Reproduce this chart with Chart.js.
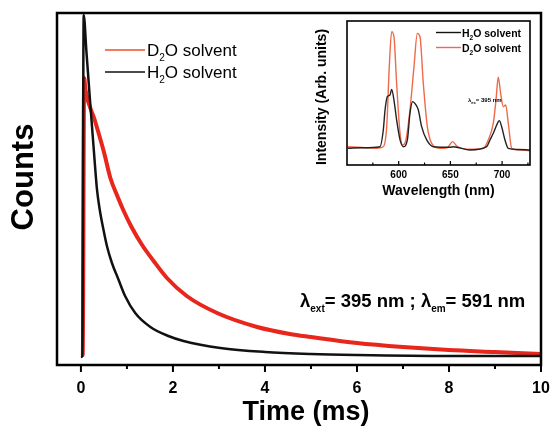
<!DOCTYPE html>
<html><head><meta charset="utf-8">
<script src="https://cdn.jsdelivr.net/npm/chart.js@4/dist/chart.umd.min.js"></script>
<style>
html,body{margin:0;padding:0;background:#fff;overflow:hidden}
#wrap{position:relative;width:550px;height:426px}
canvas{position:absolute;left:0;top:0}
</style>
</head><body>
<div id="wrap">
<canvas id="main" width="550" height="426"></canvas>
<canvas id="inset" width="240" height="200" style="left:300px;top:10px"></canvas>
</div>
<script>
// ---- Main decay data (Time in ms, Counts in arbitrary units) ----
const timeH2O   = [0.0, 0.03, 0.06, 0.12, 0.2, 0.28, 0.35, 0.41, 0.5, 0.565, 0.674, 0.82, 0.96, 1.18, 1.51, 1.9, 2.23, 3.03, 4.0, 5.0, 6.0, 8.0, 10.0];
const countsH2O = [227, 256, 9943, 8892, 7472, 6108, 4972, 4403, 3778, 3381, 2898, 2415, 1960, 1477, 1080, 824, 682, 483, 369, 312, 284, 256, 256];
const timeD2O   = [0.0, 0.04, 0.07, 0.1, 0.3, 0.5, 0.64, 0.8, 0.93, 1.1, 1.33, 1.58, 1.87, 2.3, 2.96, 3.83, 4.54, 5.0, 6.0, 7.0, 8.0, 9.0, 10.0];
const countsD2O = [256, 300, 8153, 7813, 6960, 6050, 5313, 4773, 4375, 3920, 3409, 2955, 2472, 1960, 1477, 1080, 881, 795, 625, 511, 426, 369, 312];
const timeTickLabels = [0, 2, 4, 6, 8, 10];

// ---- Inset emission spectra (Wavelength nm, Intensity arb. units) ----
const wlD2O  = [551, 565, 578.7, 585.1, 588.4, 590.9, 593.2, 595.4, 598, 601.3, 603.9, 607, 610.9, 614.8, 618, 620.6, 623.8, 627.7, 631.9, 640, 647, 652.2, 656.1, 669, 681.8, 686.6, 691.5, 694.1, 696.3, 698.6, 701.2, 703.5, 706, 709.3, 715, 727];
const intD2O = [12.7, 12.2, 11.6, 12.7, 26.6, 68.3, 92.6, 89.1, 56.7, 22, 13.9, 17.4, 38.2, 68.3, 91.4, 89.1, 56.7, 26.6, 15, 11.6, 12, 16.2, 13.2, 10.9, 11.6, 17.4, 29, 45.1, 60.9, 49.8, 40.5, 41.7, 29, 11.6, 10.5, 9.9];
const wlH2O  = [551, 565, 581.9, 585.1, 586.8, 589, 591.6, 593.2, 595.4, 598, 601.3, 604.5, 608.4, 610.9, 613.5, 616.7, 619, 622.2, 627.1, 633.5, 649.6, 652.8, 669, 685.1, 688.3, 691.5, 694.8, 697.3, 699.6, 702.8, 706, 715, 727];
const intH2O = [11.6, 12.0, 12.7, 24.3, 38.2, 47.5, 48.6, 52.5, 45.1, 31.3, 17.4, 12.7, 17.4, 35.9, 44, 41.7, 38.2, 26.6, 17.4, 12.7, 12.3, 12.7, 10.4, 12.7, 17.4, 22, 27.8, 30.8, 26.6, 17.4, 11.6, 10.8, 10.4];
const insetTickLabels = [600, 650, 700];

const FONT = '"Liberation Sans", Arial, Helvetica, sans-serif';
const pts = (xs, ys) => xs.map((v, i) => ({x: v, y: ys[i]}));

function rich(ctx, x, y, parts) {
  let cx = x;
  ctx.textAlign = 'left';
  ctx.textBaseline = 'alphabetic';
  for (const p of parts) {
    ctx.font = p.font;
    ctx.fillText(p.t, cx, y + (p.dy || 0));
    cx += ctx.measureText(p.t).width;
  }
}

const mainPlugin = {
  id: 'mainDecor',
  afterDraw(chart) {
    const {ctx, chartArea: a, scales: {x}} = chart;
    ctx.save();
    ctx.fillStyle = '#000';
    ctx.strokeStyle = '#000';
    ctx.lineWidth = 2;
    for (let v = 0; v <= 10; v++) {
      const px = x.getPixelForValue(v);
      const len = v % 2 ? 4 : 7;
      ctx.beginPath(); ctx.moveTo(px, a.bottom); ctx.lineTo(px, a.bottom + len); ctx.stroke();
    }
    ctx.lineWidth = 2.5;
    ctx.strokeRect(a.left, a.top, a.right - a.left, a.bottom - a.top);
    ctx.font = 'bold 16px ' + FONT;
    ctx.textAlign = 'center'; ctx.textBaseline = 'alphabetic';
    timeTickLabels.forEach(v => ctx.fillText(String(v), x.getPixelForValue(v), 393));
    ctx.font = 'bold 27px ' + FONT;
    ctx.fillText('Time (ms)', 306, 420);
    ctx.save();
    ctx.translate(24, 177); ctx.rotate(-Math.PI / 2);
    ctx.font = 'bold 31px ' + FONT; ctx.textBaseline = 'middle';
    ctx.fillText('Counts', 0, 0);
    ctx.restore();
    // legend
    ctx.lineWidth = 2;
    ctx.strokeStyle = '#f07c5c';
    ctx.beginPath(); ctx.moveTo(105, 50); ctx.lineTo(145, 50); ctx.stroke();
    ctx.strokeStyle = '#111'; ctx.lineWidth = 1.4;
    ctx.beginPath(); ctx.moveTo(105, 72); ctx.lineTo(145, 72); ctx.stroke();
    const f = '17px ' + FONT, fs = '10px ' + FONT;
    rich(ctx, 147, 56, [{t: 'D', font: f}, {t: '2', font: fs, dy: 5}, {t: 'O solvent', font: f}]);
    rich(ctx, 147, 78, [{t: 'H', font: f}, {t: '2', font: fs, dy: 5}, {t: 'O solvent', font: f}]);
    // annotation
    const b = 'bold 18.5px ' + FONT, bs = 'bold 10px ' + FONT;
    rich(ctx, 300, 307, [{t: 'λ', font: b}, {t: 'ext', font: bs, dy: 5}, {t: '= 395 nm ; ', font: b},
                         {t: 'λ', font: b}, {t: 'em', font: bs, dy: 5}, {t: '= 591 nm', font: b}]);
    ctx.restore();
  }
};

new Chart(document.getElementById('main'), {
  type: 'scatter',
  data: {
    datasets: [
      {label: 'H2O solvent', data: pts(timeH2O, countsH2O), showLine: true, borderColor: '#111', borderWidth: 2.5, pointRadius: 0, cubicInterpolationMode: 'monotone'},
      {label: 'D2O solvent', data: pts(timeD2O, countsD2O), showLine: true, borderColor: '#e8261c', borderWidth: 4, pointRadius: 0, cubicInterpolationMode: 'monotone'}
    ]
  },
  options: {
    responsive: false, animation: false, devicePixelRatio: 1,
    layout: {padding: {top: 13, right: 9, left: 0, bottom: 0}},
    plugins: {legend: {display: false}, tooltip: {enabled: false}},
    scales: {
      x: {type: 'linear', min: -0.52, max: 10, grid: {display: false}, border: {display: false}, ticks: {display: false},
          afterFit: s => { s.height = 61; }},
      y: {type: 'linear', min: 0, max: 10000, grid: {display: false}, border: {display: false}, ticks: {display: false},
          afterFit: s => { s.width = 57; }}
    }
  },
  plugins: [mainPlugin]
});

const insetPlugin = {
  id: 'insetDecor',
  afterDraw(chart) {
    const {ctx, chartArea: a, scales: {x}} = chart;
    ctx.save();
    ctx.fillStyle = '#000'; ctx.strokeStyle = '#000';
    ctx.lineWidth = 1.2;
    for (let v = 575; v <= 725; v += 25) {
      const px = x.getPixelForValue(v);
      const len = v % 50 ? 2.5 : 4;
      ctx.beginPath(); ctx.moveTo(px, a.bottom); ctx.lineTo(px, a.bottom - len); ctx.stroke();
    }
    ctx.lineWidth = 1.6;
    ctx.strokeRect(a.left, a.top, a.right - a.left, a.bottom - a.top);
    ctx.font = 'bold 10px ' + FONT; ctx.textAlign = 'center'; ctx.textBaseline = 'alphabetic';
    insetTickLabels.forEach(v => ctx.fillText(String(v), x.getPixelForValue(v), 168));
    ctx.font = 'bold 14px ' + FONT;
    ctx.fillText('Wavelength (nm)', 138.5, 185);
    ctx.save();
    ctx.translate(22, 87); ctx.rotate(-Math.PI / 2);
    ctx.font = 'bold 14px ' + FONT; ctx.textBaseline = 'middle';
    ctx.fillText('Intensity (Arb. units)', 0, 0);
    ctx.restore();
    ctx.lineWidth = 1.4;
    ctx.strokeStyle = '#111';
    ctx.beginPath(); ctx.moveTo(136, 22.5); ctx.lineTo(161, 22.5); ctx.stroke();
    ctx.strokeStyle = '#ee6a4a';
    ctx.beginPath(); ctx.moveTo(136, 37.5); ctx.lineTo(161, 37.5); ctx.stroke();
    const f = 'bold 10.5px ' + FONT, fs = 'bold 6.5px ' + FONT;
    rich(ctx, 162, 26.5, [{t: 'H', font: f}, {t: '2', font: fs, dy: 3}, {t: 'O solvent', font: f}]);
    rich(ctx, 162, 41.5, [{t: 'D', font: f}, {t: '2', font: fs, dy: 3}, {t: 'O solvent', font: f}]);
    const t = 'bold 6px ' + FONT, ts = 'bold 4px ' + FONT;
    rich(ctx, 168, 92, [{t: 'λ', font: t}, {t: 'ex', font: ts, dy: 2}, {t: '= 395 nm', font: t}]);
    ctx.restore();
  }
};

new Chart(document.getElementById('inset'), {
  type: 'scatter',
  data: {
    datasets: [
      {label: 'H2O solvent', data: pts(wlH2O, intH2O), showLine: true, borderColor: '#222', borderWidth: 1.4, pointRadius: 0, cubicInterpolationMode: 'monotone'},
      {label: 'D2O solvent', data: pts(wlD2O, intD2O), showLine: true, borderColor: '#ee6a4a', borderWidth: 1.4, pointRadius: 0, cubicInterpolationMode: 'monotone'}
    ]
  },
  options: {
    responsive: false, animation: false, devicePixelRatio: 1,
    layout: {padding: {top: 11, right: 10, left: 0, bottom: 0}},
    plugins: {legend: {display: false}, tooltip: {enabled: false}},
    scales: {
      x: {type: 'linear', min: 550, max: 727, grid: {display: false}, border: {display: false}, ticks: {display: false},
          afterFit: s => { s.height = 45; }},
      y: {type: 'linear', min: 0, max: 100, grid: {display: false}, border: {display: false}, ticks: {display: false},
          afterFit: s => { s.width = 47; }}
    }
  },
  plugins: [insetPlugin]
});
</script>
</body></html>
